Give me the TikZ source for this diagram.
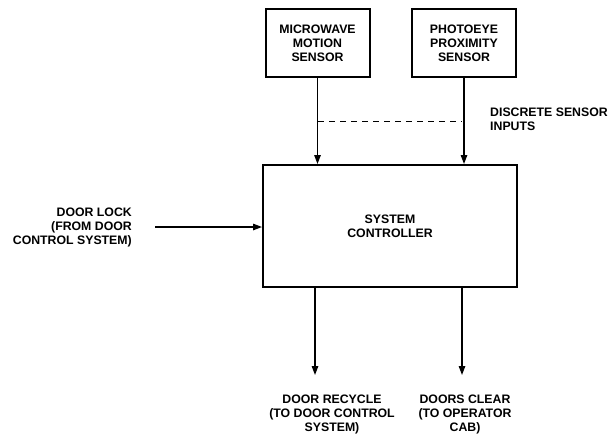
\documentclass[tikz,border=0pt]{standalone}
\usepackage{fontspec}
\setmainfont{Liberation Sans}
\usetikzlibrary{arrows.meta}
\begin{document}
\begin{tikzpicture}[x=1pt,y=-1pt,
  lbl/.style={font=\fontsize{12.3}{14}\selectfont\bfseries, inner sep=0pt},
  blk/.style={draw, line width=2pt, lbl, align=center},
  arr/.style={line width=1.3pt, -{Triangle[length=9pt,width=6.5pt]}}]
\useasboundingbox (0,0) rectangle (615,439);
\node[blk, minimum width=104, minimum height=68] (mw) at (317.5,43) {MICROWAVE\\MOTION\\SENSOR};
\node[blk, minimum width=104, minimum height=68] (pe) at (464,43) {PHOTOEYE\\PROXIMITY\\SENSOR};
\node[blk, minimum width=254, minimum height=122] (ctrl) at (390,226) {SYSTEM\\CONTROLLER};
\draw[arr] (mw.south) -- (mw.south |- ctrl.north);
\draw[arr] (pe.south) -- (pe.south |- ctrl.north);
\coordinate (d1) at (318,121);
\coordinate (d2) at (462,121);
\draw[line width=1pt, dash pattern=on 6pt off 5pt] (d1) -- (d2);
\node[lbl, anchor=west, align=left] (dsi) at (490,119) {DISCRETE SENSOR\\INPUTS};
\coordinate (dl) at (155,227);
\draw[arr] (dl) -- (dl -| ctrl.west);
\node[lbl, anchor=east, align=right] (dlt) at (132,227) {DOOR LOCK\\(FROM DOOR\\CONTROL SYSTEM)};
\coordinate (o1) at (315,375);
\coordinate (o2) at (462,375);
\draw[arr] (o1 |- ctrl.south) -- (o1);
\draw[arr] (o2 |- ctrl.south) -- (o2);
\node[lbl, anchor=north, align=center] (dr) at (332,395) {DOOR RECYCLE\\(TO DOOR CONTROL\\SYSTEM)};
\node[lbl, anchor=north, align=center] (dc) at (465,395) {DOORS CLEAR\\(TO OPERATOR\\CAB)};
\end{tikzpicture}
\end{document}
